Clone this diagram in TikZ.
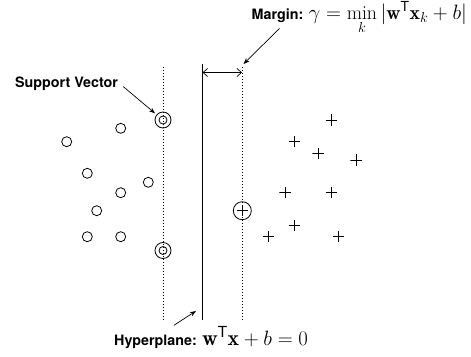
\documentclass[tikz,border=0pt]{standalone}
\usepackage{amsmath}
\usepackage{fontspec}
\setsansfont{TeX Gyre Heros}
\usetikzlibrary{calc,arrows.meta}

\begin{document}
\begin{tikzpicture}[x=1pt,y=-1pt,>=Stealth,
  lab/.style={font=\sffamily\bfseries\fontsize{14.3}{18}\selectfont,inner sep=0pt},
  negmark/.style={circle,draw,line width=.8pt,inner sep=0pt,minimum size=10pt},
  plusmark/.style={inner sep=0pt,minimum size=11.5pt,path picture={
    \draw[line width=.6pt] (path picture bounding box.north) -- (path picture bounding box.south)
                           (path picture bounding box.west) -- (path picture bounding box.east);}},
  supp/.style={circle,draw,line width=.8pt,inner sep=0pt,minimum size=16pt,path picture={
    \draw[line width=.8pt] (path picture bounding box.center) circle[radius=4pt];}},
  supppos/.style={circle,draw,line width=.8pt,inner sep=0pt,minimum size=18pt,path picture={
    \draw[line width=.6pt] ($(path picture bounding box.center)+(-5.5,0)$) -- +(11,0)
                           ($(path picture bounding box.center)+(0,-5.5)$) -- +(0,11);}},
  marg/.style={line width=.8pt,dash pattern=on 1.2pt off 1.8pt},
  hyper/.style={line width=1.4pt}]
 \useasboundingbox (0,0) rectangle (471,356);
 \coordinate (lTop) at (163,67);
 \coordinate (lBot) at (163,320);
 \coordinate (hTop) at (202.5,64);
 \coordinate (hBot) at (202.5,320);
 \coordinate (rTop) at (242,67);
 \coordinate (rBot) at (242,320);
 \draw[marg] (lTop) -- (lBot);
 \draw[hyper] (hTop) -- (hBot);
 \draw[marg] (rTop) -- (rBot);
 \coordinate (gapL) at (202.5,72.5);
 \coordinate (gapR) at (242,72.5);
 \draw[line width=.7pt,{Straight Barb[length=4.5pt,width=8pt]}-{Straight Barb[length=4.5pt,width=8pt]}] (gapL) -- (gapR);

 \node[negmark] (n1) at (66.7,141.7) {};
 \node[negmark] (n2) at (120.7,128.3) {};
 \node[negmark] (n3) at (87.3,173.3) {};
 \node[negmark] (n4) at (148.3,182.3) {};
 \node[negmark] (n5) at (120.7,192.7) {};
 \node[negmark] (n6) at (96.7,210.7) {};
 \node[negmark] (n7) at (87.3,236.7) {};
 \node[negmark] (n8) at (120.7,236.7) {};
 \node[supp] (sv1) at (163,120) {};
 \node[supp] (sv2) at (163,250.5) {};

 \node[plusmark] (p1) at (331.7,120) {};
 \node[plusmark] (p2) at (294.7,141.7) {};
 \node[plusmark] (p3) at (318,153.3) {};
 \node[plusmark] (p4) at (356,160) {};
 \node[plusmark] (p5) at (285,192.3) {};
 \node[plusmark] (p6) at (331.7,192.3) {};
 \node[plusmark] (p7) at (294.7,225.7) {};
 \node[plusmark] (p8) at (268.3,236.7) {};
 \node[plusmark] (p9) at (338.7,236.7) {};
 \node[supppos] (sv3) at (242.3,210.7) {};

 \node[lab,anchor=base west] (svlab) at (15,87.3) {Support Vector};
 \draw[->,line width=.7pt,shorten >=2pt] ($(svlab.east)+(5,3)$) -- (sv1);

 \node[lab,anchor=base west] (mlab) at (251.5,19.5)
      {Margin: {\mdseries\fontsize{19.8}{24}\selectfont$\gamma=\min\limits_k|\mathbf{w}^{\mathsf{T}}\mathbf{x}_k+b|$}};
 \coordinate (mtip) at (243.5,64);
 \draw[->,line width=.7pt] ($(mlab.west)+(28,10)$) -- (mtip);

 \node[lab,anchor=base west] (hlab) at (114,345)
      {Hyperplane: {\mdseries\fontsize{21.8}{26}\selectfont$\mathbf{w}^{\mathsf{T}}\mathbf{x}+b=0$}};
 \coordinate (htip) at (196,311);
 \draw[->,line width=.7pt] ($(hlab.west)+(60,-12)$) -- (htip);
\end{tikzpicture}
\end{document}
